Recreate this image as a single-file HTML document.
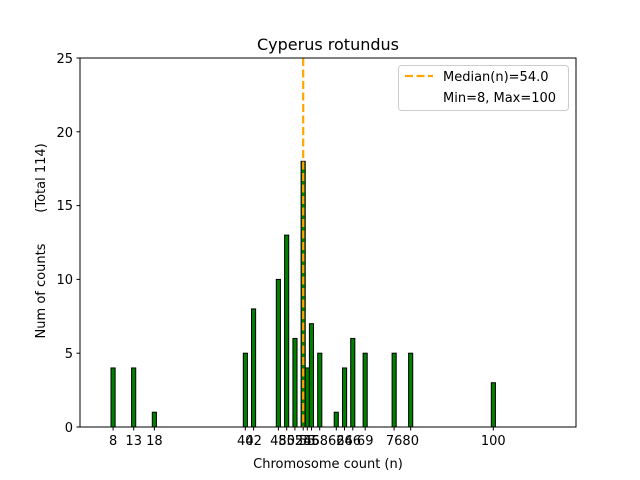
<!DOCTYPE html>
<html><head><style>body{margin:0;background:#fff}svg{display:block}text{font-family:"DejaVu Sans","Liberation Sans",sans-serif;fill:#000}</style></head><body>
<svg width="640" height="480" viewBox="0 0 640 480">
<rect width="640" height="480" fill="#fff"/>
<g fill="#008000" stroke="#000" stroke-width="1">
<rect x="111.0" y="367.96" width="4.13" height="59.04"/>
<rect x="131.6" y="367.96" width="4.13" height="59.04"/>
<rect x="152.3" y="412.24" width="4.13" height="14.76"/>
<rect x="243.3" y="353.2" width="4.13" height="73.8"/>
<rect x="251.5" y="308.92" width="4.13" height="118.08"/>
<rect x="276.3" y="279.4" width="4.13" height="147.6"/>
<rect x="284.6" y="235.12" width="4.13" height="191.88"/>
<rect x="292.9" y="338.44" width="4.13" height="88.56"/>
<rect x="301.1" y="161.32" width="4.13" height="265.68"/>
<rect x="305.3" y="367.96" width="4.13" height="59.04"/>
<rect x="309.4" y="323.68" width="4.13" height="103.32"/>
<rect x="317.7" y="353.2" width="4.13" height="73.8"/>
<rect x="334.2" y="412.24" width="4.13" height="14.76"/>
<rect x="342.5" y="367.96" width="4.13" height="59.04"/>
<rect x="350.7" y="338.44" width="4.13" height="88.56"/>
<rect x="363.1" y="353.2" width="4.13" height="73.8"/>
<rect x="392.1" y="353.2" width="4.13" height="73.8"/>
<rect x="408.6" y="353.2" width="4.13" height="73.8"/>
<rect x="491.3" y="382.72" width="4.13" height="44.28"/>
</g>
<line x1="303.2" y1="58" x2="303.2" y2="427" stroke="#ffa500" stroke-width="2.2" stroke-dasharray="8,3.5"/>
<rect x="80" y="58" width="496" height="369" fill="none" stroke="#000" stroke-width="1"/>
<g stroke="#000" stroke-width="1">
<line x1="80" y1="427" x2="76.5" y2="427"/><line x1="80" y1="353.2" x2="76.5" y2="353.2"/><line x1="80" y1="279.4" x2="76.5" y2="279.4"/><line x1="80" y1="205.6" x2="76.5" y2="205.6"/><line x1="80" y1="131.8" x2="76.5" y2="131.8"/><line x1="80" y1="58" x2="76.5" y2="58"/>
</g>
<g font-size="13" text-anchor="end">
<text x="73" y="432">0</text><text x="73" y="358">5</text><text x="73" y="284">10</text><text x="73" y="210">15</text><text x="73" y="137">20</text><text x="73" y="63">25</text>
</g>
<g stroke="#000" stroke-width="1">
<line x1="113.1" y1="427" x2="113.1" y2="430.5"/><line x1="133.7" y1="427" x2="133.7" y2="430.5"/><line x1="154.4" y1="427" x2="154.4" y2="430.5"/><line x1="245.3" y1="427" x2="245.3" y2="430.5"/><line x1="253.6" y1="427" x2="253.6" y2="430.5"/><line x1="278.4" y1="427" x2="278.4" y2="430.5"/><line x1="286.7" y1="427" x2="286.7" y2="430.5"/><line x1="294.9" y1="427" x2="294.9" y2="430.5"/><line x1="303.2" y1="427" x2="303.2" y2="430.5"/><line x1="307.3" y1="427" x2="307.3" y2="430.5"/><line x1="311.5" y1="427" x2="311.5" y2="430.5"/><line x1="319.7" y1="427" x2="319.7" y2="430.5"/><line x1="336.3" y1="427" x2="336.3" y2="430.5"/><line x1="344.5" y1="427" x2="344.5" y2="430.5"/><line x1="352.8" y1="427" x2="352.8" y2="430.5"/><line x1="365.2" y1="427" x2="365.2" y2="430.5"/><line x1="394.1" y1="427" x2="394.1" y2="430.5"/><line x1="410.7" y1="427" x2="410.7" y2="430.5"/><line x1="493.3" y1="427" x2="493.3" y2="430.5"/>
</g>
<g font-size="13" text-anchor="middle">
<text x="113.1" y="445">8</text><text x="133.7" y="445">13</text><text x="154.4" y="445">18</text><text x="245.3" y="445">40</text><text x="253.6" y="445">42</text><text x="278.4" y="445">48</text><text x="286.7" y="445">50</text><text x="294.9" y="445">52</text><text x="303.2" y="445">54</text><text x="307.3" y="445">55</text><text x="311.5" y="445">56</text><text x="319.7" y="445">58</text><text x="336.3" y="445">62</text><text x="344.5" y="445">64</text><text x="352.8" y="445">66</text><text x="365.2" y="445">69</text><text x="394.1" y="445">76</text><text x="410.7" y="445">80</text><text x="493.3" y="445">100</text>
</g>
<text x="328" y="468" font-size="13" text-anchor="middle">Chromosome count (n)</text>
<text transform="translate(45,291) rotate(-90)" font-size="13" text-anchor="middle">Num of counts</text>
<text transform="translate(45,178) rotate(-90)" font-size="13" text-anchor="middle">(Total 114)</text>
<text x="328" y="50" font-size="16" text-anchor="middle">Cyperus rotundus</text>
<rect x="398.5" y="65.5" width="170" height="45" rx="3" fill="#fff" stroke="#ccc" stroke-width="1"/>
<line x1="405" y1="76" x2="433" y2="76" stroke="#ffa500" stroke-width="2.2" stroke-dasharray="8,3.5"/>
<text x="443" y="81" font-size="13">Median(n)=54.0</text>
<text x="443" y="102" font-size="13">Min=8, Max=100</text>
</svg>
</body></html>
